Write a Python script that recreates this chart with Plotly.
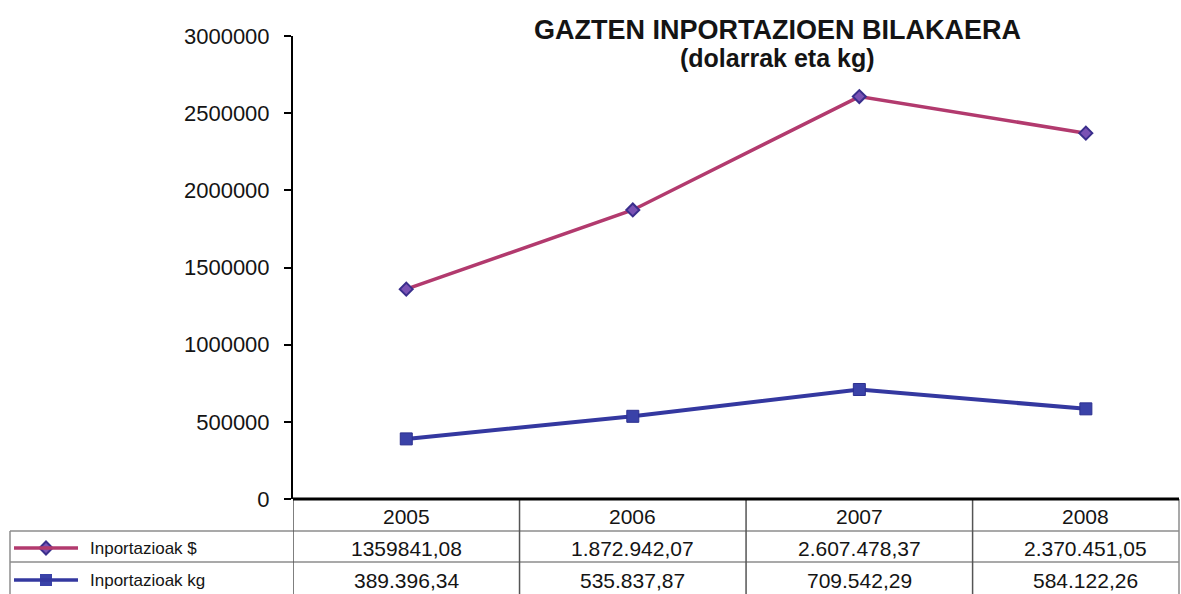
import plotly.graph_objects as go

# data
years = ["2005", "2006", "2007", "2008"]
dollars = [1359841.08, 1872942.07, 2607478.37, 2370451.05]
kg = [389396.34, 535837.87, 709542.29, 584122.26]
dollars_text = ["1359841,08", "1.872.942,07", "2.607.478,37", "2.370.451,05"]
kg_text = ["389.396,34", "535.837,87", "709.542,29", "584.122,26"]
series_names = ["Inportazioak $", "Inportazioak kg"]
y_ticks = [0, 500000, 1000000, 1500000, 2000000, 2500000, 3000000]

W, H = 1181, 594
FONT = "Liberation Sans, Arial, sans-serif"
TEXT = "#141414"
PINK = "#b23a6e"
BLUE = "#3438a0"


def px_x(x):
    return x / W


def px_y(y):
    return (H - y) / H


fig = go.Figure()

fig.add_trace(go.Scatter(
    x=years, y=dollars, mode="lines+markers", name=series_names[0],
    line=dict(color=PINK, width=3.5),
    marker=dict(symbol="diamond", size=10, color="#7a52b4",
                line=dict(color="#3a2e8c", width=2)),
))
fig.add_trace(go.Scatter(
    x=years, y=kg, mode="lines+markers", name=series_names[1],
    line=dict(color=BLUE, width=4),
    marker=dict(symbol="square", size=12, color="#3a42a8",
                line=dict(color="#2c3090", width=1)),
))

shapes = []
grid = dict(color="#8c8c8c", width=1.5)
# horizontal table rules
for yy in (531, 562):
    shapes.append(dict(type="line", xref="paper", yref="paper",
                       x0=px_x(10), x1=px_x(1179), y0=px_y(yy), y1=px_y(yy), line=grid))
# left border of legend rows
shapes.append(dict(type="line", xref="paper", yref="paper",
                   x0=px_x(10), x1=px_x(10), y0=px_y(531), y1=0, line=grid))
# right border
shapes.append(dict(type="line", xref="paper", yref="paper",
                   x0=px_x(1179), x1=px_x(1179), y0=px_y(499), y1=0, line=grid))
# column separators at category boundaries
for i in range(len(years)):
    shapes.append(dict(type="line", xref="x", yref="paper",
                       x0=i - 0.5, x1=i - 0.5, y0=px_y(499), y1=0,
                       line=dict(color="#555555", width=1.5)))
# thick x axis line
shapes.append(dict(type="line", xref="paper", yref="paper",
                   x0=px_x(293), x1=px_x(1179), y0=px_y(499), y1=px_y(499),
                   line=dict(color="black", width=3)))

# legend key lines inside the table
for yy, col in ((548, PINK), (580, BLUE)):
    shapes.append(dict(type="line", xref="paper", yref="paper",
                       x0=px_x(14), x1=px_x(78), y0=px_y(yy), y1=px_y(yy),
                       line=dict(color=col, width=3.5)))

annotations = []
cell_font = dict(family=FONT, size=21, color=TEXT)
for i, yr in enumerate(years):
    for txt, yy in ((yr, 516), (dollars_text[i], 548), (kg_text[i], 580)):
        annotations.append(dict(x=i, y=px_y(yy), xref="x", yref="paper", text=txt,
                                yanchor="middle", showarrow=False, font=cell_font))
for name, yy in zip(series_names, (548, 580)):
    annotations.append(dict(x=px_x(88), y=px_y(yy), xref="paper", yref="paper", text=name,
                            xanchor="left", yanchor="middle", showarrow=False,
                            font=dict(family=FONT, size=17, color=TEXT)))

annotations.append(dict(
    x=px_x(777), y=px_y(30), xref="paper", yref="paper", showarrow=False,
    yanchor="middle", text="<b>GAZTEN INPORTAZIOEN BILAKAERA</b>",
    font=dict(family=FONT, size=27, color=TEXT)))
annotations.append(dict(
    x=px_x(777), y=px_y(58), xref="paper", yref="paper", showarrow=False,
    yanchor="middle", text="<b>(dolarrak eta kg)</b>",
    font=dict(family=FONT, size=25, color=TEXT)))

# marker keys in legend cells
fig.add_trace(go.Scatter(
    x=[px_x(46)], y=[px_y(548)], xaxis="x2", yaxis="y2", mode="markers",
    marker=dict(symbol="diamond", size=10, color="#7a52b4", line=dict(color="#3a2e8c", width=2)),
    showlegend=False, hoverinfo="skip"))
fig.add_trace(go.Scatter(
    x=[px_x(46)], y=[px_y(580)], xaxis="x2", yaxis="y2", mode="markers",
    marker=dict(symbol="square", size=12, color="#3a42a8"),
    showlegend=False, hoverinfo="skip"))

fig.update_layout(
    width=W, height=H,
    margin=dict(l=0, r=0, t=0, b=0),
    paper_bgcolor="white", plot_bgcolor="rgba(0,0,0,0)",
    showlegend=False,
    font=dict(family=FONT, size=20, color=TEXT),
    xaxis=dict(domain=[px_x(293), 1], range=[-0.5, 3.42], showticklabels=False,
               showgrid=False, zeroline=False, showline=False, ticks="", automargin=False),
    yaxis=dict(domain=[px_y(499), px_y(36)], range=[0, 3000000], tickvals=y_ticks,
               tickformat="d", showgrid=False, zeroline=False, showline=True,
               linecolor="black", linewidth=2, ticks="outside", ticklen=7,
               tickwidth=2, tickcolor="black", tickfont=dict(size=22, color=TEXT),
               ticklabelstandoff=10, automargin=False),
    xaxis2=dict(domain=[0, 1], range=[0, 1], visible=False, automargin=False),
    yaxis2=dict(domain=[0, 1], range=[0, 1], visible=False, automargin=False),
    shapes=shapes,
    annotations=annotations,
)

fig.write_html("out.html", config={"displayModeBar": False},
               post_script="document.body.style.margin='0';document.body.style.overflow='hidden';")
